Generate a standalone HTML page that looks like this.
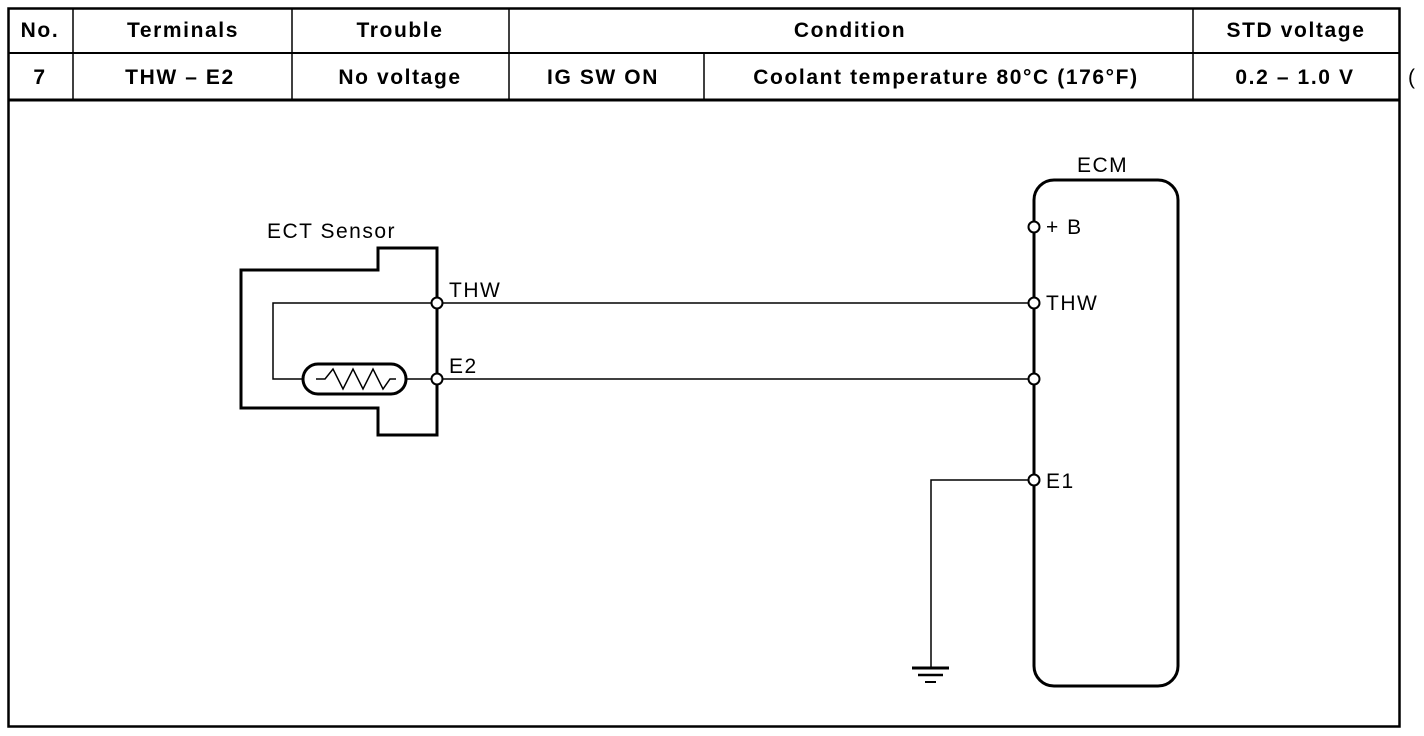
<!DOCTYPE html>
<html><head><meta charset="utf-8"><style>
html,body{margin:0;padding:0;background:#fff;}
svg{display:block;}
text{font-family:"Liberation Sans",Arial,sans-serif;fill:#000;}
.h{font-weight:bold;font-size:21px;letter-spacing:1.6px;}
.l{font-size:21px;letter-spacing:1.5px;}
</style></head><body>
<svg width="1424" height="736" viewBox="0 0 1424 736" xmlns="http://www.w3.org/2000/svg">
<g stroke="#000" fill="none">
  <rect x="8.5" y="8.5" width="1391" height="718" stroke-width="2.5"/>
  <line x1="8" y1="53" x2="1400" y2="53" stroke-width="2"/>
  <line x1="8" y1="100" x2="1400" y2="100" stroke-width="3"/>
  <line x1="73" y1="8" x2="73" y2="100" stroke-width="1.5"/>
  <line x1="292" y1="8" x2="292" y2="100" stroke-width="1.5"/>
  <line x1="509" y1="8" x2="509" y2="100" stroke-width="1.5"/>
  <line x1="704" y1="53" x2="704" y2="100" stroke-width="1.5"/>
  <line x1="1193" y1="8" x2="1193" y2="100" stroke-width="1.5"/>

  <path d="M241 270 H378 V248 H437 V435 H378 V408 H241 Z" stroke-width="3"/>
  <path d="M437 303 H273 V379 H303" stroke-width="1.5"/>
  <line x1="406" y1="379" x2="437" y2="379" stroke-width="1.5"/>
  <rect x="303" y="364" width="103" height="30" rx="15" stroke-width="3"/>
  <path d="M316 379 L325 379 L333 369 L343 389 L353 369 L363 389 L373 369 L383 389 L390 379 L396 379" stroke-width="1.5"/>
  <line x1="442" y1="303" x2="1029" y2="303" stroke-width="1.5"/>
  <line x1="442" y1="379" x2="1029" y2="379" stroke-width="1.5"/>

  <rect x="1034" y="180" width="144" height="506" rx="20" stroke-width="3"/>
  <path d="M1029 480 H931 V668" stroke-width="1.5"/>
  <line x1="912" y1="668" x2="949" y2="668" stroke-width="3"/>
  <line x1="918" y1="675" x2="943" y2="675" stroke-width="2.5"/>
  <line x1="925" y1="682" x2="936" y2="682" stroke-width="2"/>
</g>
<g fill="#fff" stroke="#000" stroke-width="2">
  <circle cx="437" cy="303" r="5.5"/>
  <circle cx="437" cy="379" r="5.5"/>
  <circle cx="1034" cy="227" r="5.5"/>
  <circle cx="1034" cy="303" r="5.5"/>
  <circle cx="1034" cy="379" r="5.5"/>
  <circle cx="1034" cy="480" r="5.5"/>
</g>
<text class="h" x="40" y="37" text-anchor="middle">No.</text>
<text class="h" x="183" y="37" text-anchor="middle">Terminals</text>
<text class="h" x="400" y="37" text-anchor="middle">Trouble</text>
<text class="h" x="850" y="37" text-anchor="middle">Condition</text>
<text class="h" x="1296" y="37" text-anchor="middle">STD voltage</text>
<text class="h" x="40" y="84" text-anchor="middle">7</text>
<text class="h" x="180" y="84" text-anchor="middle">THW – E2</text>
<text class="h" x="400" y="84" text-anchor="middle">No voltage</text>
<text class="h" x="603" y="84" text-anchor="middle">IG SW ON</text>
<text class="h" x="946" y="84" text-anchor="middle">Coolant temperature 80°C (176°F)</text>
<text class="h" x="1295" y="84" text-anchor="middle">0.2 – 1.0 V</text>
<text class="l" x="1408" y="84">(</text>
<text class="l" x="267" y="238">ECT Sensor</text>
<text class="l" x="449" y="297">THW</text>
<text class="l" x="449" y="373">E2</text>
<text class="l" x="1077" y="172">ECM</text>
<text class="l" x="1046" y="234">+ B</text>
<text class="l" x="1046" y="310">THW</text>
<text class="l" x="1046" y="488">E1</text>
</svg>
</body></html>
